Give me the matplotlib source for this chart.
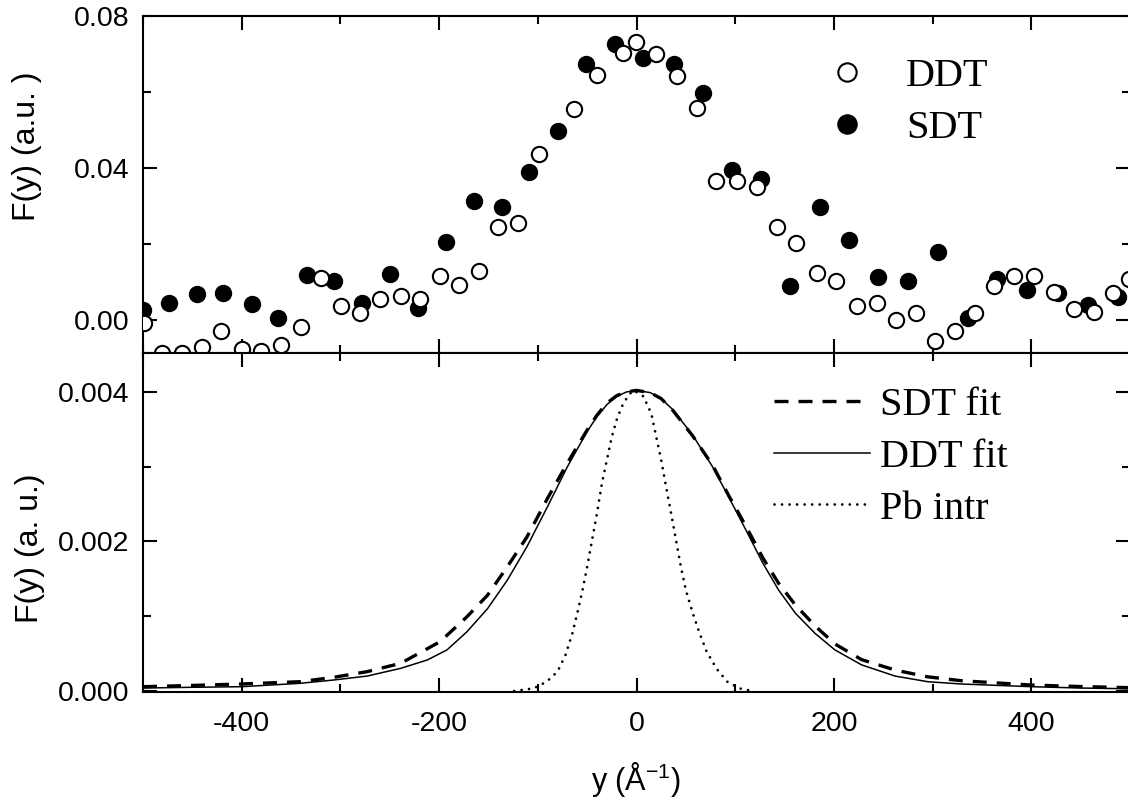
import matplotlib
matplotlib.use("Agg")
import matplotlib.pyplot as plt
from matplotlib.ticker import MultipleLocator, FormatStrFormatter

# Measured momentum distributions (top panel)
ddt_x = [-499, -481, -460, -440, -421, -400, -380, -360, -340, -320, -299, -280,
         -260, -239, -219, -199, -180, -160, -140, -120, -99, -63, -40, -14, -1,
         20, 41, 61, 81, 102, 122, 142, 162, 183, 202, 223, 244, 263, 283, 302,
         323, 343, 362, 382, 403, 423, 443, 464, 483, 499]
ddt_y = [-0.0008, -0.0088, -0.0088, -0.0071, -0.0030, -0.0077, -0.0082, -0.0066,
         -0.0018, 0.0110, 0.0037, 0.0018, 0.0055, 0.0062, 0.0054, 0.0116, 0.0092,
         0.0129, 0.0245, 0.0255, 0.0437, 0.0556, 0.0644, 0.0702, 0.0731, 0.0699,
         0.0643, 0.0558, 0.0367, 0.0367, 0.0350, 0.0245, 0.0203, 0.0124, 0.0103,
         0.0037, 0.0045, 0.0000, 0.0018, -0.0055, -0.0030, 0.0018, 0.0089, 0.0116,
         0.0116, 0.0073, 0.0030, 0.0020, 0.0071, 0.0108]

sdt_x = [-500, -474, -445, -419, -390, -363, -334, -306, -278, -250, -221, -193,
         -165, -136, -109, -80, -51, -22, 7, 38, 67, 97, 126, 156, 186, 215, 245,
         275, 305, 336, 365, 396, 427, 457, 488]
sdt_y = [0.0026, 0.0045, 0.0068, 0.0070, 0.0042, 0.0005, 0.0118, 0.0103, 0.0045,
         0.0121, 0.0032, 0.0205, 0.0313, 0.0297, 0.0390, 0.0497, 0.0673, 0.0726,
         0.0689, 0.0673, 0.0597, 0.0395, 0.0371, 0.0089, 0.0297, 0.0210, 0.0113,
         0.0103, 0.0179, 0.0005, 0.0108, 0.0078, 0.0070, 0.0040, 0.0061]

# Fitted profiles (bottom panel)
ddt_fit_x = [-500, -450, -400, -341, -307, -273, -239, -212, -192, -172, -151,
             -131, -111, -90, -70, -50, -40, -30, -20, -10, 0, 14, 25, 37, 57, 77,
             94, 111, 128, 144, 161, 181, 201, 228, 262, 295, 329, 400, 450, 500]
ddt_fit_y = [0.00004, 0.00005, 0.000058, 0.000103, 0.000147, 0.0002, 0.000303,
             0.000415, 0.00055, 0.00079, 0.0011, 0.00148, 0.00193, 0.00247, 0.003,
             0.00347, 0.00367, 0.00383, 0.00394, 0.004, 0.00402, 0.00399, 0.00391,
             0.00376, 0.00342, 0.003, 0.00258, 0.00215, 0.00171, 0.00135, 0.00104,
             0.00077, 0.00055, 0.00035, 0.0002, 0.000125, 0.000094, 0.000058,
             0.00004, 0.00003]

sdt_fit_x = [-500, -450, -400, -341, -307, -273, -239, -199, -172, -151, -131,
             -111, -90, -70, -50, -40, -30, -20, -10, 0, 14, 25, 37, 57, 77, 94,
             111, 128, 144, 161, 181, 201, 228, 262, 295, 329, 400, 450, 500]
sdt_fit_y = [0.000058, 0.000075, 0.000094, 0.000125, 0.000183, 0.000259, 0.00037,
             0.00066, 0.00099, 0.00128, 0.00166, 0.00206, 0.00258, 0.00305,
             0.00349, 0.00369, 0.00385, 0.00395, 0.004, 0.00402, 0.00399, 0.00391,
             0.00375, 0.00341, 0.00302, 0.0026, 0.0022, 0.00178, 0.00144, 0.00115,
             0.00087, 0.00063, 0.00042, 0.00028, 0.00019, 0.000138, 0.00008,
             0.00006, 0.000045]

pb_x = [-124, -104, -91, -80, -72, -65, -60, -55, -50, -45, -40, -35, -30, -25,
        -20, -15, -8, -3, 7, 15, 20, 25, 30, 35, 40, 45, 50, 57, 64, 71, 81, 92,
        104, 117]
pb_y = [0.0, 0.000036, 0.000125, 0.00026, 0.00048, 0.00077, 0.00104, 0.00133,
        0.00166, 0.00202, 0.00238, 0.00278, 0.00309, 0.0034, 0.00363, 0.0038,
        0.00396, 0.00402, 0.00394, 0.00371, 0.0034, 0.00309, 0.00273, 0.00238,
        0.00202, 0.00166, 0.00135, 0.00104, 0.00077, 0.00053, 0.0003, 0.000125,
        0.000036, 0.0]

plt.rcParams['font.family'] = ['Liberation Sans', 'DejaVu Sans']
plt.rcParams['axes.unicode_minus'] = False
plt.rcParams['mathtext.default'] = 'regular'

W, H = 1128, 807
fig = plt.figure(figsize=(W / 100, H / 100), dpi=100)
x0, x1 = 143, 1130
ax1 = fig.add_axes([x0 / W, 1 - 353 / H, (x1 - x0) / W, (353 - 16) / H])
ax2 = fig.add_axes([x0 / W, 1 - 692 / H, (x1 - x0) / W, (692 - 353) / H])

serif = {'family': 'Liberation Serif', 'size': 29}


def style(ax):
    for s in ax.spines.values():
        s.set_linewidth(1.5)
    ax.tick_params(which='both', direction='in', top=True, right=True,
                   width=1.5, labelsize=20.5, pad=10)
    ax.tick_params(which='major', length=10)
    ax.tick_params(which='minor', length=5.5)
    ax.xaxis.set_major_locator(MultipleLocator(200))
    ax.xaxis.set_minor_locator(MultipleLocator(100))
    ax.set_xlim(-500, 500)


# Top panel: data points
style(ax1)
ax1.plot(sdt_x, sdt_y, 'o', ls='none', ms=11.5, mfc='black', mec='black',
         mew=1.0, zorder=2, label='SDT')
ax1.plot(ddt_x, ddt_y, 'o', ls='none', ms=11, mfc='white', mec='black',
         mew=1.5, zorder=3, label='DDT')
ax1.set_ylim(-0.0087, 0.08)
ax1.yaxis.set_major_locator(MultipleLocator(0.04))
ax1.yaxis.set_minor_locator(MultipleLocator(0.02))
ax1.yaxis.set_major_formatter(FormatStrFormatter('%.2f'))
ax1.tick_params(axis='x', labelbottom=False)
ax1.set_ylabel('F(y) (a.u. )', fontsize=23)
ax1.yaxis.set_label_coords((42 - x0) / (x1 - x0), (353 - 146) / 337)

h, l = ax1.get_legend_handles_labels()
ax1.legend([h[1], h[0]], [l[1], l[0]], prop=serif, frameon=False,
           loc='upper left', bbox_to_anchor=(827 / W, 1 - 58 / H),
           bbox_transform=fig.transFigure, borderpad=0, borderaxespad=0,
           handlelength=1.0, handletextpad=0.97, labelspacing=0.36,
           markerscale=1.2)

# Bottom panel: fitted profiles
style(ax2)
ax2.tick_params(axis='x', pad=14)
ax2.plot(sdt_fit_x, sdt_fit_y, color='black', lw=2.4,
         ls=(0, (4.2, 3.0)), label='SDT fit')
ax2.plot(ddt_fit_x, ddt_fit_y, color='black', lw=1.1, ls='-', label='DDT fit')
ax2.plot(pb_x, pb_y, color='black', lw=2.0, ls=(0, (0.01, 2.7)),
         dash_capstyle='round', label='Pb intr')
ax2.set_ylim(-0.000013, 0.00452)
ax2.yaxis.set_major_locator(MultipleLocator(0.002))
ax2.yaxis.set_minor_locator(MultipleLocator(0.001))
ax2.yaxis.set_major_formatter(FormatStrFormatter('%.3f'))
ax2.set_ylabel('F(y) (a. u.)', fontsize=23)
ax2.yaxis.set_label_coords((45 - x0) / (x1 - x0), (692 - 548) / 339)
ax2.set_xlabel('y (Å$^{-1}$)', fontsize=22)
ax2.xaxis.set_label_coords(0.5, (692 - 760) / 339)

ax2.legend(prop=serif, frameon=False, loc='upper left',
           bbox_to_anchor=(774 / W, 1 - 387 / H),
           bbox_transform=fig.transFigure, borderpad=0, borderaxespad=0,
           handlelength=2.38, handletextpad=0.25, labelspacing=0.36)

fig.savefig('out.png', dpi=100)
